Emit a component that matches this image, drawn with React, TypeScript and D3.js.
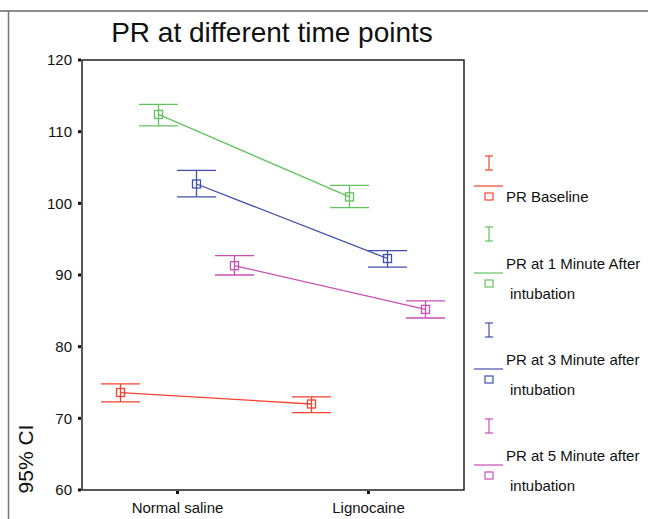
import React from 'react';
import * as d3 from 'd3';

const groups = ['Normal saline', 'Lignocaine'];
const seriesNames = [
    ['PR Baseline'],
    ['PR at 1 Minute After', 'intubation'],
    ['PR at 3 Minute after', 'intubation'],
    ['PR at 5 Minute after', 'intubation'],
];
const colors = ['#f4432f', '#62c25e', '#3f4fae', '#c94fb5'];
// mean, lower and upper 95% CI per group (Normal saline, Lignocaine)
const means = [
    [73.6, 72.0],
    [112.4, 100.9],
    [102.7, 92.3],
    [91.3, 85.2],
];
const lowers = [
    [72.3, 70.8],
    [110.8, 99.4],
    [100.9, 91.1],
    [90.0, 84.0],
];
const uppers = [
    [74.8, 73.0],
    [113.8, 102.5],
    [104.6, 93.4],
    [92.7, 86.4],
];
const yTicks = [60, 70, 80, 90, 100, 110, 120];

const W = 648, H = 519;
const left = 82, right = 464, top = 60, bottom = 490;
const font = 'Liberation Sans, Arial, Helvetica, sans-serif';

const App: React.FC = () => {
    const x = d3.scalePoint<string>().domain(groups).range([left, right]).padding(0.5);
    const dodge = d3.scalePoint<number>().domain(d3.range(seriesNames.length)).range([-57, 57]);
    const y = d3.scaleLinear().domain([60, 120]).range([bottom, top]);
    const line = d3.line<[number, number]>().x(d => d[0]).y(d => d[1]);
    const cap = 19.5;
    const sq = 8;

    return (
        <div style={{ position: 'fixed', left: 0, top: 0 }}>
            <svg width={W} height={H} style={{ display: 'block', background: '#fff' }} fontFamily={font}>
                <line x1={0} x2={W} y1={11} y2={11} stroke="#666" strokeWidth={1.5} />
                <line x1={8.5} x2={8.5} y1={11} y2={H} stroke="#777" strokeWidth={1.5} />
                <text x={272} y={42} textAnchor="middle" fontSize={28} fill="#111">PR at different time points</text>

                <rect x={left} y={top} width={right - left} height={bottom - top} fill="none" stroke="#222" strokeWidth={1.5} />

                {yTicks.map(t => (
                    <g key={t}>
                        <rect x={left - 4} y={y(t) - 1.5} width={3} height={3} fill="#111" />
                        <text x={72} y={y(t)} dy="0.35em" textAnchor="end" fontSize={15} fill="#111">{t}</text>
                    </g>
                ))}
                {groups.map(g => (
                    <g key={g}>
                        <rect x={(x(g) as number) - 1.5} y={bottom + 1} width={3} height={3} fill="#111" />
                        <text x={x(g)} y={513} textAnchor="middle" fontSize={15} fill="#111">{g}</text>
                    </g>
                ))}
                <text transform={`translate(33,459) rotate(-90)`} textAnchor="middle" fontSize={21} fill="#111">95% CI</text>

                {seriesNames.map((_, s) => {
                    const pts: [number, number][] = groups.map((g, i) => [(x(g) as number) + (dodge(s) as number), y(means[s][i])]);
                    return (
                        <g key={s} stroke={colors[s]} fill="none" strokeWidth={1.3}>
                            <path d={line(pts) || ''} />
                            {groups.map((g, i) => {
                                const cx = pts[i][0];
                                return (
                                    <g key={g}>
                                        <line x1={cx} x2={cx} y1={y(uppers[s][i])} y2={y(lowers[s][i])} />
                                        <line x1={cx - cap} x2={cx + cap} y1={y(uppers[s][i])} y2={y(uppers[s][i])} />
                                        <line x1={cx - cap} x2={cx + cap} y1={y(lowers[s][i])} y2={y(lowers[s][i])} />
                                        <rect x={cx - sq / 2} y={pts[i][1] - sq / 2} width={sq} height={sq} fill="none" />
                                    </g>
                                );
                            })}
                        </g>
                    );
                })}

                {seriesNames.map((lines, s) => {
                    const ly = s === 0 ? 186 : 273 + 96 * (s - 1);
                    const iy = s === 0 ? ly - 23 : ly - 39;
                    return (
                        <g key={s}>
                            <g stroke={colors[s]} strokeWidth={1.2} fill="none">
                                <line x1={489} x2={489} y1={iy - 7} y2={iy + 7} />
                                <line x1={485} x2={493} y1={iy - 7} y2={iy - 7} />
                                <line x1={485} x2={493} y1={iy + 7} y2={iy + 7} />
                                <line x1={474} x2={503} y1={ly} y2={ly} />
                                <rect x={485} y={ly + 7} width={8} height={7} />
                            </g>
                            {lines.length === 1 ? (
                                <text x={506} y={ly + 11} dy="0.35em" fontSize={15} fill="#111">{lines[0]}</text>
                            ) : (
                                <g fontSize={15} fill="#111">
                                    <text x={506} y={ly - 9} dy="0.35em">{lines[0]}</text>
                                    <text x={510} y={ly + 21} dy="0.35em">{lines[1]}</text>
                                </g>
                            )}
                        </g>
                    );
                })}
            </svg>
        </div>
    );
};

export default App;
